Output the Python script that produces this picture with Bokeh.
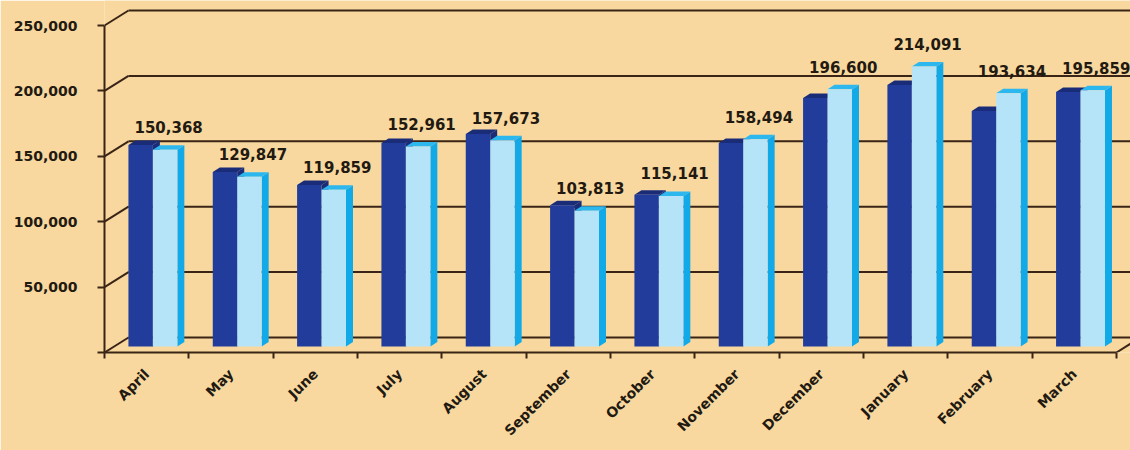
import math
from bokeh.plotting import figure
from bokeh.models import Range1d, FixedTicker, NumeralTickFormatter
from bokeh.embed import file_html
from bokeh.resources import INLINE
from bokeh.core.properties import value

# ---- data ----
months = ["April", "May", "June", "July", "August", "September", "October",
          "November", "December", "January", "February", "March"]
previous = [154000, 133500, 123500, 155500, 162500, 108000, 116000,
            155500, 190000, 200000, 180000, 194500]
current = [150368, 129847, 119859, 152961, 157673, 103813, 115141,
           158494, 196600, 214091, 193634, 195859]
y_ticks = [0, 50000, 100000, 150000, 200000, 250000]

# ---- styles ----
BG = "#F8D89F"
LINE = "#3A2416"
TEXT = "#221911"
DARK_FRONT = "#223C9B"
DARK_TOP = "#1A2C78"
LIGHT_FRONT = "#B5E4F8"
LIGHT_TOP = "#2CB8EF"
LIGHT_SIDE = "#12A9E8"
FONT = "DejaVu Sans"

# ---- layout ----
W, H = 1130, 450
LEFT_PX, BOTTOM_PX = 104, 98
PX_PER_CAT = 84.33
PX_PER_UNIT = 1.308 / 1000
x_end = (W - LEFT_PX) / PX_PER_CAT
y_end = (H - BOTTOM_PX) / PX_PER_UNIT
n = len(months)

WALL_DX = 24 / PX_PER_CAT
WALL_DY = 15 / PX_PER_UNIT
BAR_DEPTH = 0.4
BAR_W = 0.29
BAR_OFF = 0.17
BAR_DX = 7 / PX_PER_CAT
BAR_DY = 4.5 / PX_PER_UNIT
LABEL_GAP = 12 / PX_PER_UNIT

p = figure(width=W, height=H, x_range=Range1d(0, x_end), y_range=Range1d(0, y_end),
           output_backend="svg", toolbar_location=None,
           min_border_left=LEFT_PX, min_border_right=0, min_border_top=0,
           min_border_bottom=BOTTOM_PX, background_fill_color=BG,
           border_fill_color=BG, outline_line_color=None)
p.xgrid.visible = False
p.ygrid.visible = False

# ---- 3D back wall grid ----
gx0 = [WALL_DX] * len(y_ticks)
gx1 = [x_end + 1] * len(y_ticks)
gy = [v + WALL_DY for v in y_ticks]
p.segment(x0=gx0, y0=gy, x1=gx1, y1=gy, line_color=LINE, line_width=2)
p.segment(x0=[0] * len(y_ticks), y0=y_ticks, x1=gx0, y1=gy, line_color=LINE, line_width=2)
p.segment(x0=[n], y0=[0], x1=[n + WALL_DX], y1=[WALL_DY], line_color=LINE, line_width=2)

# ---- bars ----
sx = BAR_DEPTH * WALL_DX
sy = BAR_DEPTH * WALL_DY


def draw_series(vals, left_off, front, top, side):
    lefts = [i + left_off + sx for i in range(n)]
    rights = [l + BAR_W for l in lefts]
    tops = [v + sy for v in vals]
    side_xs = [[r, r + BAR_DX, r + BAR_DX, r] for r in rights]
    side_ys = [[sy, sy + BAR_DY, t + BAR_DY, t] for t in tops]
    top_xs = [[l, l + BAR_DX, r + BAR_DX, r] for l, r in zip(lefts, rights)]
    top_ys = [[t, t + BAR_DY, t + BAR_DY, t] for t in tops]
    p.patches(side_xs, side_ys, fill_color=side, line_color=None)
    p.patches(top_xs, top_ys, fill_color=top, line_color=None)
    p.quad(left=lefts, right=rights, bottom=[sy] * n, top=tops,
           fill_color=front, line_color=None)
    return lefts, rights, tops


draw_series(previous, BAR_OFF, DARK_FRONT, DARK_TOP, DARK_TOP)
ll, lr, lt = draw_series(current, BAR_OFF + BAR_W, LIGHT_FRONT, LIGHT_TOP, LIGHT_SIDE)

# ---- value labels ----
p.text(x=[(a + b) / 2 + BAR_DX / 2 for a, b in zip(ll, lr)],
       y=[t + BAR_DY + LABEL_GAP for t in lt],
       text=[f"{v:,}" for v in current],
       text_align="center", text_baseline="bottom",
       text_font=value(FONT), text_font_style="bold", text_font_size="15px",
       text_color=TEXT)

# ---- axes ----
ya = p.yaxis[0]
ya.ticker = FixedTicker(ticks=y_ticks)
ya.formatter = NumeralTickFormatter(format="0,0")
ya.major_label_overrides = {0: ""}
ya.bounds = (0, 250000)
ya.axis_line_color = LINE
ya.axis_line_width = 2
ya.major_tick_line_color = LINE
ya.major_tick_line_width = 2
ya.major_tick_out = 7
ya.major_tick_in = 0
ya.minor_tick_line_color = None
ya.major_label_standoff = 20
ya.major_label_text_font = FONT
ya.major_label_text_font_style = "bold"
ya.major_label_text_font_size = "14px"
ya.major_label_text_color = TEXT

xa = p.xaxis[0]
xa.ticker = FixedTicker(ticks=[i + 0.5 for i in range(n)], minor_ticks=list(range(n + 1)))
xa.major_label_overrides = {i + 0.5: m for i, m in enumerate(months)}
xa.bounds = (0, n)
xa.axis_line_color = LINE
xa.axis_line_width = 2
xa.major_tick_line_color = None
xa.major_tick_out = 0
xa.major_tick_in = 0
xa.minor_tick_line_color = LINE
xa.minor_tick_line_width = 2
xa.minor_tick_out = 6
xa.minor_tick_in = 0
xa.major_label_orientation = math.pi / 4
xa.major_label_standoff = 13
xa.major_label_text_font = FONT
xa.major_label_text_font_style = "bold"
xa.major_label_text_font_size = "14px"
xa.major_label_text_color = TEXT

open("out.html", "w").write(file_html(p, INLINE))
